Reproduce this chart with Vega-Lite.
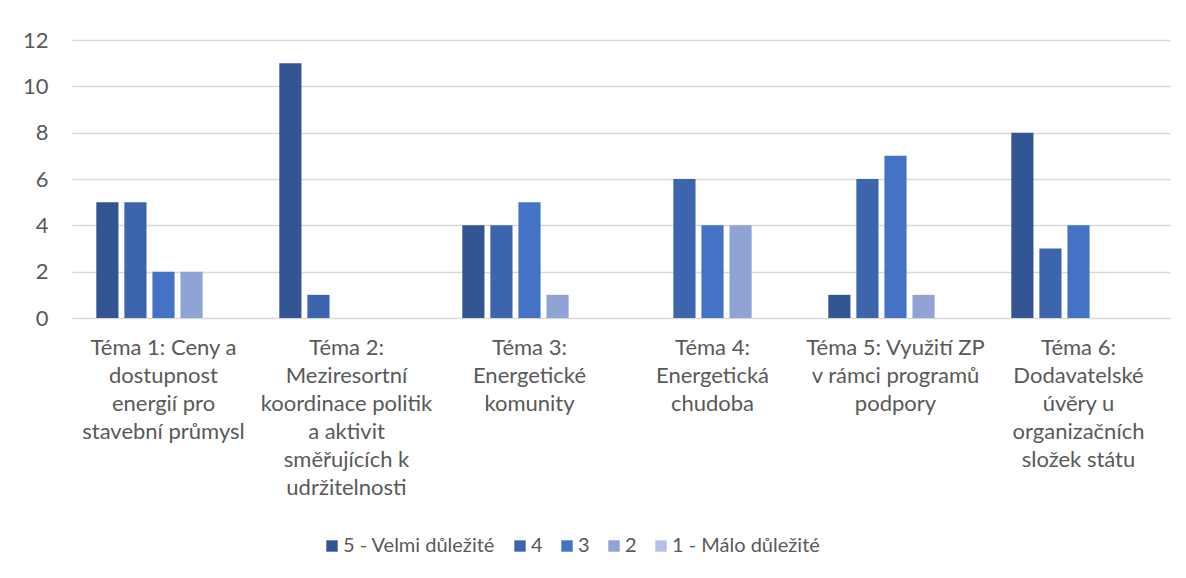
{
  "$schema": "https://vega.github.io/schema/vega-lite/v6.json",
  "width": 1098,
  "height": 278,
  "autosize": {"type": "none"},
  "padding": {"left": 72, "top": 40, "right": 16, "bottom": 260},
  "background": "white",
  "config": {
    "view": {"stroke": null},
    "font": "Lato",
    "axis": {"labelFont": "Lato", "labelColor": "#595959", "labelFontSize": 22},
    "legend": {"labelFont": "Lato", "labelColor": "#595959", "labelFontSize": 20}
  },
  "data": {
    "values": [
      {"tema": "Téma 1: Ceny a|dostupnost|energií pro|stavební průmysl", "hodnoceni": "5 - Velmi důležité", "pocet": 5},
      {"tema": "Téma 1: Ceny a|dostupnost|energií pro|stavební průmysl", "hodnoceni": "4", "pocet": 5},
      {"tema": "Téma 1: Ceny a|dostupnost|energií pro|stavební průmysl", "hodnoceni": "3", "pocet": 2},
      {"tema": "Téma 1: Ceny a|dostupnost|energií pro|stavební průmysl", "hodnoceni": "2", "pocet": 2},
      {"tema": "Téma 1: Ceny a|dostupnost|energií pro|stavební průmysl", "hodnoceni": "1 - Málo důležité", "pocet": 0},
      {"tema": "Téma 2:|Meziresortní|koordinace politik|a aktivit|směřujících k|udržitelnosti", "hodnoceni": "5 - Velmi důležité", "pocet": 11},
      {"tema": "Téma 2:|Meziresortní|koordinace politik|a aktivit|směřujících k|udržitelnosti", "hodnoceni": "4", "pocet": 1},
      {"tema": "Téma 2:|Meziresortní|koordinace politik|a aktivit|směřujících k|udržitelnosti", "hodnoceni": "3", "pocet": 0},
      {"tema": "Téma 2:|Meziresortní|koordinace politik|a aktivit|směřujících k|udržitelnosti", "hodnoceni": "2", "pocet": 0},
      {"tema": "Téma 2:|Meziresortní|koordinace politik|a aktivit|směřujících k|udržitelnosti", "hodnoceni": "1 - Málo důležité", "pocet": 0},
      {"tema": "Téma 3:|Energetické|komunity", "hodnoceni": "5 - Velmi důležité", "pocet": 4},
      {"tema": "Téma 3:|Energetické|komunity", "hodnoceni": "4", "pocet": 4},
      {"tema": "Téma 3:|Energetické|komunity", "hodnoceni": "3", "pocet": 5},
      {"tema": "Téma 3:|Energetické|komunity", "hodnoceni": "2", "pocet": 1},
      {"tema": "Téma 3:|Energetické|komunity", "hodnoceni": "1 - Málo důležité", "pocet": 0},
      {"tema": "Téma 4:|Energetická|chudoba", "hodnoceni": "5 - Velmi důležité", "pocet": 0},
      {"tema": "Téma 4:|Energetická|chudoba", "hodnoceni": "4", "pocet": 6},
      {"tema": "Téma 4:|Energetická|chudoba", "hodnoceni": "3", "pocet": 4},
      {"tema": "Téma 4:|Energetická|chudoba", "hodnoceni": "2", "pocet": 4},
      {"tema": "Téma 4:|Energetická|chudoba", "hodnoceni": "1 - Málo důležité", "pocet": 0},
      {"tema": "Téma 5: Využití ZP|v rámci programů|podpory", "hodnoceni": "5 - Velmi důležité", "pocet": 1},
      {"tema": "Téma 5: Využití ZP|v rámci programů|podpory", "hodnoceni": "4", "pocet": 6},
      {"tema": "Téma 5: Využití ZP|v rámci programů|podpory", "hodnoceni": "3", "pocet": 7},
      {"tema": "Téma 5: Využití ZP|v rámci programů|podpory", "hodnoceni": "2", "pocet": 1},
      {"tema": "Téma 5: Využití ZP|v rámci programů|podpory", "hodnoceni": "1 - Málo důležité", "pocet": 0},
      {"tema": "Téma 6:|Dodavatelské|úvěry u|organizačních|složek státu", "hodnoceni": "5 - Velmi důležité", "pocet": 8},
      {"tema": "Téma 6:|Dodavatelské|úvěry u|organizačních|složek státu", "hodnoceni": "4", "pocet": 3},
      {"tema": "Téma 6:|Dodavatelské|úvěry u|organizačních|složek státu", "hodnoceni": "3", "pocet": 4},
      {"tema": "Téma 6:|Dodavatelské|úvěry u|organizačních|složek státu", "hodnoceni": "2", "pocet": 0},
      {"tema": "Téma 6:|Dodavatelské|úvěry u|organizačních|složek státu", "hodnoceni": "1 - Málo důležité", "pocet": 0}
    ]
  },
  "mark": {"type": "bar"},
  "encoding": {
    "x": {
      "field": "tema",
      "type": "nominal",
      "sort": null,
      "scale": {"paddingInner": 0.235, "paddingOuter": 0.1175},
      "axis": {
        "title": null,
        "labelAngle": 0,
        "labelExpr": "split(datum.value, '|')",
        "labelLineHeight": 28,
        "labelLimit": 0,
        "labelPadding": 19,
        "labelBaseline": "top",
        "domain": false,
        "ticks": false
      }
    },
    "xOffset": {
      "field": "hodnoceni",
      "type": "nominal",
      "sort": ["5 - Velmi důležité", "4", "3", "2", "1 - Málo důležité"],
      "scale": {"paddingInner": 0.21, "paddingOuter": 0.1}
    },
    "y": {
      "field": "pocet",
      "type": "quantitative",
      "scale": {"domain": [0, 12], "nice": false},
      "axis": {
        "title": null,
        "values": [0, 2, 4, 6, 8, 10, 12],
        "domain": false,
        "ticks": false,
        "labelPadding": 24,
        "gridColor": "#d9d9d9",
        "gridWidth": 1.3
      }
    },
    "color": {
      "field": "hodnoceni",
      "type": "nominal",
      "sort": ["5 - Velmi důležité", "4", "3", "2", "1 - Málo důležité"],
      "scale": {
        "domain": ["5 - Velmi důležité", "4", "3", "2", "1 - Málo důležité"],
        "range": ["#335593", "#3c65ae", "#4472c4", "#8fa4d4", "#b4c1e4"]
      },
      "legend": {
        "title": null,
        "orient": "none",
        "legendX": 250,
        "legendY": 496,
        "direction": "horizontal",
        "symbolType": "square",
        "symbolSize": 130,
        "symbolStrokeWidth": 0,
        "columnPadding": 14,
        "labelOffset": 1
      }
    }
  }
}
